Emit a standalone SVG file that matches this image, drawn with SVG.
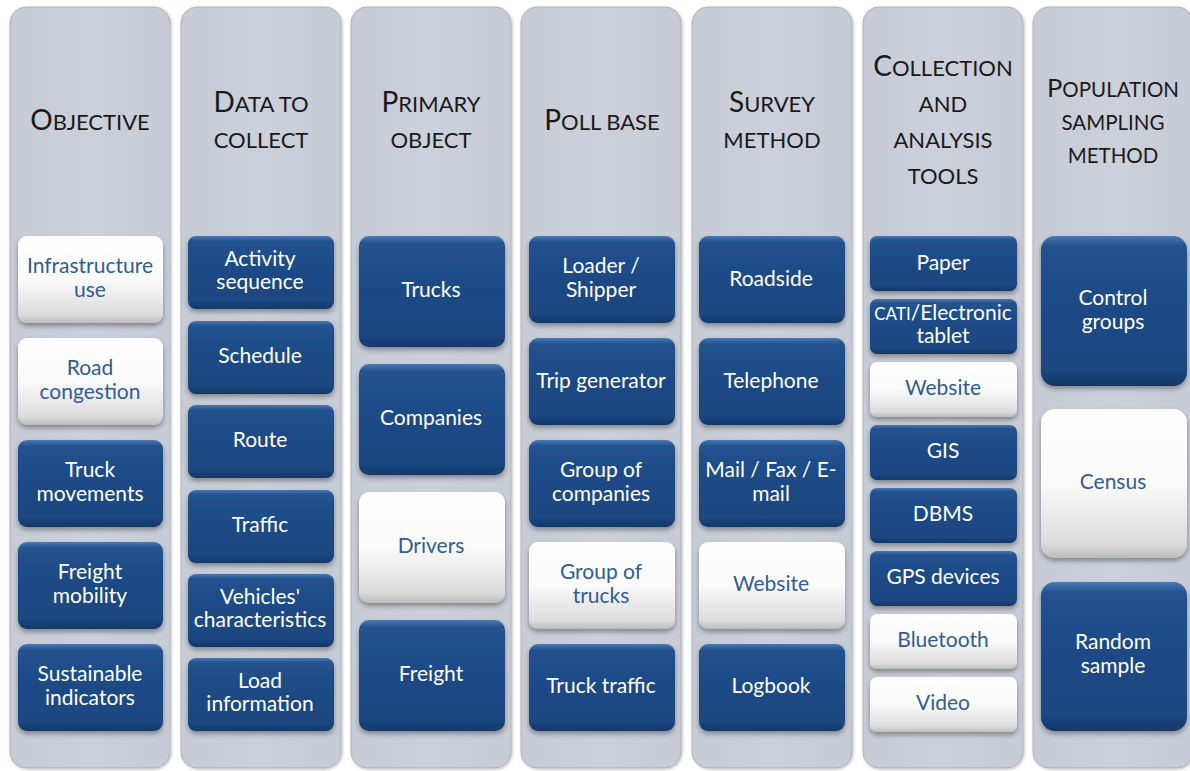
<svg xmlns="http://www.w3.org/2000/svg" width="1190" height="771" viewBox="0 0 1190 771">
<defs>
<linearGradient id="gBlue" x1="0" y1="0" x2="0" y2="1">
<stop offset="0" stop-color="#4A78B2"/>
<stop offset="0.07" stop-color="#22528E"/>
<stop offset="0.5" stop-color="#1C4A85"/>
<stop offset="0.9" stop-color="#1A4680"/>
<stop offset="1" stop-color="#133766"/>
</linearGradient>
<linearGradient id="gWhite" x1="0" y1="0" x2="0" y2="1">
<stop offset="0" stop-color="#FFFFFF"/>
<stop offset="0.5" stop-color="#FAFAFA"/>
<stop offset="0.9" stop-color="#DCDCDC"/>
<stop offset="1" stop-color="#BDBDBD"/>
</linearGradient>
<linearGradient id="gPanel" x1="0" y1="0" x2="1" y2="0">
<stop offset="0" stop-color="#C6CBD5"/>
<stop offset="0.5" stop-color="#CBD0DA"/>
<stop offset="1" stop-color="#C6CBD5"/>
</linearGradient>
<filter id="sh" x="-10%" y="-10%" width="120%" height="130%">
<feDropShadow dx="0" dy="3" stdDeviation="2.5" flood-color="#000" flood-opacity="0.35"/>
</filter>
<filter id="psh" x="-5%" y="-2%" width="110%" height="104%">
<feDropShadow dx="1" dy="1" stdDeviation="1.5" flood-color="#000" flood-opacity="0.25"/>
</filter>
</defs>
<style>
.panel{fill:url(#gPanel);stroke:#AEB3BC;stroke-width:1;filter:url(#psh)}
.b{fill:url(#gBlue);filter:url(#sh)}
.w{fill:url(#gWhite);filter:url(#sh)}
.h{font-family:Lato,"Open Sans",sans-serif;fill:#1A1A1A;text-anchor:middle;font-size:22px}
.h .c{font-size:28px}
.h7{font-size:20.5px}
.h7 .c{font-size:25.5px}
.t{font-family:Lato,"Open Sans",sans-serif;font-size:21px;text-anchor:middle}
.tb{fill:#FFFFFF}
.tw{fill:#2F5D94}
</style>
<rect width="1190" height="771" fill="#FFFFFF"/>

<g id="col1">
<rect class="panel" x="10" y="7" width="160" height="761" rx="16"/>
<text class="h" x="90" y="130"><tspan class="c">O</tspan>BJECTIVE</text>
</g>
<g id="col2">
<rect class="panel" x="181" y="7" width="160" height="761" rx="16"/>
<text class="h" x="261" y="112"><tspan class="c">D</tspan>ATA TO</text>
<text class="h" x="261" y="148">COLLECT</text>
</g>
<g id="col3">
<rect class="panel" x="351" y="7" width="160" height="761" rx="16"/>
<text class="h" x="431" y="112"><tspan class="c">P</tspan>RIMARY</text>
<text class="h" x="431" y="148">OBJECT</text>
</g>
<g id="col4">
<rect class="panel" x="521" y="7" width="160" height="761" rx="16"/>
<text class="h" x="602" y="130"><tspan class="c">P</tspan>OLL BASE</text>
</g>
<g id="col5">
<rect class="panel" x="692" y="7" width="160" height="761" rx="16"/>
<text class="h" x="772" y="112"><tspan class="c">S</tspan>URVEY</text>
<text class="h" x="772" y="148">METHOD</text>
</g>
<g id="col6">
<rect class="panel" x="863" y="7" width="160" height="761" rx="16"/>
<text class="h" x="943" y="76"><tspan class="c">C</tspan>OLLECTION</text>
<text class="h" x="943" y="112">AND</text>
<text class="h" x="943" y="148">ANALYSIS</text>
<text class="h" x="943" y="184">TOOLS</text>
</g>
<g id="col7">
<rect class="panel" x="1033" y="7" width="160" height="761" rx="16"/>
<text class="h h7" x="1113" y="97"><tspan class="c">P</tspan>OPULATION</text>
<text class="h h7" x="1113" y="130">SAMPLING</text>
<text class="h h7" x="1113" y="163">METHOD</text>
</g>

<!-- Column 1 boxes -->
<g id="n-infrastructure"><rect class="w" x="18" y="236" width="145" height="87" rx="9"/><text class="t tw" x="90" y="273">Infrastructure</text><text class="t tw" x="90" y="297">use</text></g>
<g id="n-road"><rect class="w" x="18" y="338" width="145" height="87" rx="9"/><text class="t tw" x="90" y="375">Road</text><text class="t tw" x="90" y="399">congestion</text></g>
<g id="n-truckmov"><rect class="b" x="18" y="440" width="145" height="87" rx="9"/><text class="t tb" x="90" y="477">Truck</text><text class="t tb" x="90" y="501">movements</text></g>
<g id="n-freightmob"><rect class="b" x="18" y="542" width="145" height="87" rx="9"/><text class="t tb" x="90" y="579">Freight</text><text class="t tb" x="90" y="603">mobility</text></g>
<g id="n-sustain"><rect class="b" x="18" y="644" width="145" height="87" rx="9"/><text class="t tb" x="90" y="681">Sustainable</text><text class="t tb" x="90" y="705">indicators</text></g>

<!-- Column 2 boxes -->
<g id="n-activity"><rect class="b" x="188" y="236" width="146" height="73" rx="8"/><text class="t tb" x="260" y="266">Activity</text><text class="t tb" x="260" y="289">sequence</text></g>
<g id="n-schedule"><rect class="b" x="188" y="321" width="146" height="73" rx="8"/><text class="t tb" x="260" y="363">Schedule</text></g>
<g id="n-route"><rect class="b" x="188" y="405" width="146" height="73" rx="8"/><text class="t tb" x="260" y="447">Route</text></g>
<g id="n-traffic"><rect class="b" x="188" y="490" width="146" height="73" rx="8"/><text class="t tb" x="260" y="532">Traffic</text></g>
<g id="n-vehicles"><rect class="b" x="188" y="574" width="146" height="73" rx="8"/><text class="t tb" x="260" y="604">Vehicles'</text><text class="t tb" x="260" y="627">characteristics</text></g>
<g id="n-load"><rect class="b" x="188" y="658" width="146" height="73" rx="8"/><text class="t tb" x="260" y="688">Load</text><text class="t tb" x="260" y="711">information</text></g>

<!-- Column 3 boxes -->
<g id="n-trucks"><rect class="b" x="359" y="236" width="146" height="111" rx="10"/><text class="t tb" x="431" y="297">Trucks</text></g>
<g id="n-companies"><rect class="b" x="359" y="364" width="146" height="111" rx="10"/><text class="t tb" x="431" y="425">Companies</text></g>
<g id="n-drivers"><rect class="w" x="359" y="492" width="146" height="111" rx="10"/><text class="t tw" x="431" y="553">Drivers</text></g>
<g id="n-freight"><rect class="b" x="359" y="620" width="146" height="111" rx="10"/><text class="t tb" x="431" y="681">Freight</text></g>

<!-- Column 4 boxes -->
<g id="n-loader"><rect class="b" x="529" y="236" width="146" height="87" rx="9"/><text class="t tb" x="601" y="273">Loader /</text><text class="t tb" x="601" y="297">Shipper</text></g>
<g id="n-trip"><rect class="b" x="529" y="338" width="146" height="87" rx="9"/><text class="t tb" x="601" y="388">Trip generator</text></g>
<g id="n-groupcomp"><rect class="b" x="529" y="440" width="146" height="87" rx="9"/><text class="t tb" x="601" y="477">Group of</text><text class="t tb" x="601" y="501">companies</text></g>
<g id="n-grouptrucks"><rect class="w" x="529" y="542" width="146" height="87" rx="9"/><text class="t tw" x="601" y="579">Group of</text><text class="t tw" x="601" y="603">trucks</text></g>
<g id="n-trucktraffic"><rect class="b" x="529" y="644" width="146" height="87" rx="9"/><text class="t tb" x="601" y="693">Truck traffic</text></g>

<!-- Column 5 boxes -->
<g id="n-roadside"><rect class="b" x="699" y="236" width="146" height="87" rx="9"/><text class="t tb" x="771" y="286">Roadside</text></g>
<g id="n-telephone"><rect class="b" x="699" y="338" width="146" height="87" rx="9"/><text class="t tb" x="771" y="388">Telephone</text></g>
<g id="n-mail"><rect class="b" x="699" y="440" width="146" height="87" rx="9"/><text class="t tb" x="771" y="477">Mail / Fax / E-</text><text class="t tb" x="771" y="501">mail</text></g>
<g id="n-website5"><rect class="w" x="699" y="542" width="146" height="87" rx="9"/><text class="t tw" x="771" y="591">Website</text></g>
<g id="n-logbook"><rect class="b" x="699" y="644" width="146" height="87" rx="9"/><text class="t tb" x="771" y="693">Logbook</text></g>

<!-- Column 6 boxes -->
<g id="n-paper"><rect class="b" x="870" y="236" width="147" height="55" rx="7"/><text class="t tb" x="943" y="270">Paper</text></g>
<g id="n-cati"><rect class="b" x="870" y="299" width="147" height="55" rx="7"/><text class="t tb" x="943" y="320"><tspan style="font-size:17px">CATI</tspan>/Electronic</text><text class="t tb" x="943" y="343">tablet</text></g>
<g id="n-website6"><rect class="w" x="870" y="362" width="147" height="55" rx="7"/><text class="t tw" x="943" y="395">Website</text></g>
<g id="n-gis"><rect class="b" x="870" y="425" width="147" height="55" rx="7"/><text class="t tb" x="943" y="458">GIS</text></g>
<g id="n-dbms"><rect class="b" x="870" y="488" width="147" height="55" rx="7"/><text class="t tb" x="943" y="521">DBMS</text></g>
<g id="n-gps"><rect class="b" x="870" y="551" width="147" height="55" rx="7"/><text class="t tb" x="943" y="584">GPS devices</text></g>
<g id="n-bluetooth"><rect class="w" x="870" y="614" width="147" height="55" rx="7"/><text class="t tw" x="943" y="647">Bluetooth</text></g>
<g id="n-video"><rect class="w" x="870" y="677" width="147" height="55" rx="7"/><text class="t tw" x="943" y="710">Video</text></g>

<!-- Column 7 boxes -->
<g id="n-control"><rect class="b" x="1041" y="236" width="146" height="150" rx="14"/><text class="t tb" x="1113" y="305">Control</text><text class="t tb" x="1113" y="329">groups</text></g>
<g id="n-census"><rect class="w" x="1041" y="409" width="146" height="149" rx="14"/><text class="t tw" x="1113" y="489">Census</text></g>
<g id="n-random"><rect class="b" x="1041" y="582" width="146" height="149" rx="14"/><text class="t tb" x="1113" y="649">Random</text><text class="t tb" x="1113" y="673">sample</text></g>

<g id="connectors"></g>
</svg>
